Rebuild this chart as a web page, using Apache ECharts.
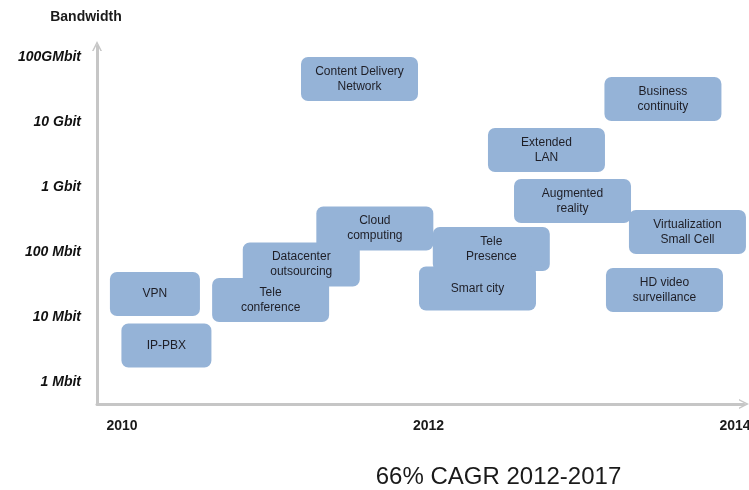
<!DOCTYPE html>
<html>
<head>
<meta charset="utf-8">
<script src="https://cdn.jsdelivr.net/npm/echarts@6/dist/echarts.min.js"></script>
<style>
html,body{margin:0;padding:0;background:#fff;}
#chart{width:749px;height:490px;}
</style>
</head>
<body>
<div id="chart"></div>
<script>
// Applications (box labels)
const apps = [
  'Content Delivery\nNetwork',
  'Business\ncontinuity',
  'Extended\nLAN',
  'Augmented\nreality',
  'Cloud\ncomputing',
  'Virtualization\nSmall Cell',
  'Tele\nPresence',
  'Datacenter\noutsourcing',
  'Smart city',
  'HD video\nsurveillance',
  'Tele\nconference',
  'VPN',
  'IP-PBX'
];
// Year of each application (box centre)
const appYears = [2011.55, 2013.53, 2012.77, 2012.94, 2011.65, 2013.69, 2012.41, 2011.17, 2012.32, 2013.54, 2010.97, 2010.215, 2010.29];
// Bandwidth of each application in Mbit (box centre)
const appBandwidth = [46000, 22600, 3710, 609, 230, 203, 111, 64.2, 27.4, 26.0, 18.3, 22.6, 3.64];

// Axis ticks
const yTickValues = [1, 10, 100, 1000, 10000, 100000];
const yTickLabels = ['1 Mbit', '10 Mbit', '100 Mbit', '1 Gbit', '10 Gbit', '100GMbit'];
const xTickValues = [2010, 2012, 2014];
const xTickLabels = ['2010', '2012', '2014'];

const narrowApps = ['VPN', 'IP-PBX'];
const arrowPath = 'path://M0,10 L5,0 L10,10 L8.4,10 L5,3.2 L1.6,10 Z';

const chart = echarts.init(document.getElementById('chart'), null, {renderer: 'canvas'});
chart.setOption({
  animation: false,
  backgroundColor: '#ffffff',
  grid: {left: 97, top: 46, width: 647, bottom: 86, containLabel: false, outerBoundsMode: 'none'},
  xAxis: {
    type: 'value',
    min: 2009.837,
    max: 2014.059,
    axisLine: {show: true, symbol: ['none', arrowPath], symbolSize: [10, 11], lineStyle: {color: '#c6c6c6', width: 3}},
    axisTick: {show: false},
    splitLine: {show: false},
    axisLabel: {
      customValues: xTickValues,
      formatter: v => xTickLabels[xTickValues.indexOf(Math.round(v))] || '',
      margin: 15,
      color: '#1a1a1a',
      fontFamily: 'Liberation Sans, Arial, sans-serif',
      fontWeight: 'bold',
      fontSize: 14
    }
  },
  yAxis: {
    type: 'log',
    logBase: 10,
    min: 0.4587,
    max: 147700,
    name: 'Bandwidth',
    nameLocation: 'end',
    nameGap: 22,
    nameTextStyle: {
      color: '#1a1a1a',
      fontFamily: 'Liberation Sans, Arial, sans-serif',
      fontWeight: 'bold',
      fontSize: 14,
      padding: [0, 22, 0, 0]
    },
    axisLine: {show: true, symbol: ['none', arrowPath], symbolSize: [10, 11], lineStyle: {color: '#c6c6c6', width: 3}},
    axisTick: {show: false},
    splitLine: {show: false},
    axisLabel: {
      customValues: yTickValues,
      formatter: v => {
        const i = yTickValues.findIndex(t => Math.abs(Math.log10(t) - Math.log10(v)) < 1e-6);
        return i >= 0 ? yTickLabels[i] : '';
      },
      margin: 16,
      color: '#111111',
      fontFamily: 'Liberation Sans, Arial, sans-serif',
      fontWeight: 'bold',
      fontStyle: 'italic',
      fontSize: 14
    }
  },
  graphic: [{
    type: 'text',
    x: 498.5,
    y: 477,
    style: {
      text: '66% CAGR 2012-2017',
      fill: '#1a1a1a',
      font: '24px "Liberation Sans", Arial, sans-serif',
      align: 'center',
      verticalAlign: 'middle'
    }
  }],
  series: [{
    type: 'custom',
    coordinateSystem: 'cartesian2d',
    clip: false,
    data: apps.map((name, i) => ({name: name, value: [appYears[i], appBandwidth[i]]})),
    renderItem: function (params, api) {
      const c = api.coord([api.value(0), api.value(1)]);
      const name = apps[params.dataIndex];
      const w = narrowApps.indexOf(name) >= 0 ? 90 : 117;
      const h = 44;
      return {
        type: 'group',
        children: [{
          type: 'rect',
          shape: {x: c[0] - w / 2, y: c[1] - h / 2, width: w, height: h, r: 7},
          style: {fill: '#95b3d7'}
        }, {
          type: 'text',
          style: {
            text: name,
            x: c[0],
            y: c[1],
            align: 'center',
            verticalAlign: 'middle',
            fill: '#1e1e26',
            font: '12px "Liberation Sans", Arial, sans-serif',
            lineHeight: 15
          }
        }]
      };
    }
  }]
});
</script>
</body>
</html>
